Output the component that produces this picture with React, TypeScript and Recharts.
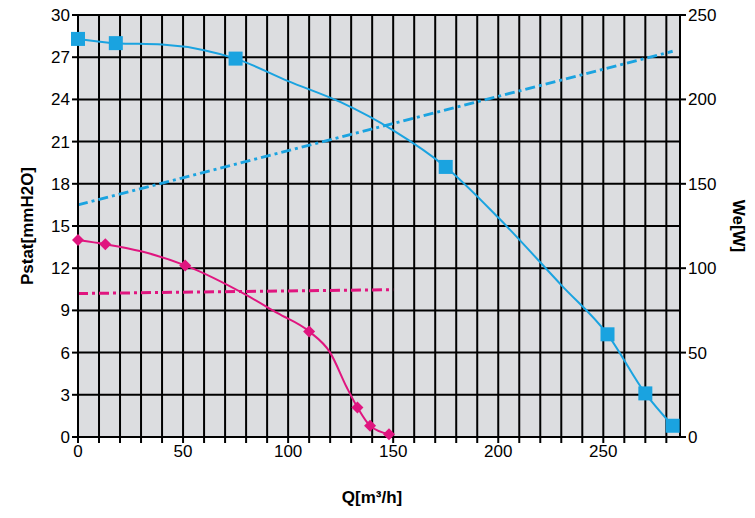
import { ComposedChart, Line, XAxis, YAxis, CartesianGrid, ReferenceLine, Customized } from "recharts";

// Q [m3/h] vs Pstat [mmH2O]; m = measured point (marker)
const bluePressure = [
  { q: 0, p: 28.3, m: 1 }, { q: 18, p: 28.0, m: 1 }, { q: 40, p: 27.9 },
  { q: 60, p: 27.5 }, { q: 75, p: 26.9, m: 1 }, { q: 100, p: 25.3 },
  { q: 125, p: 23.8 }, { q: 150, p: 21.8 }, { q: 175, p: 19.2, m: 1 },
  { q: 200, p: 15.6 }, { q: 230, p: 10.8 }, { q: 252, p: 7.3, m: 1 },
  { q: 270, p: 3.1, m: 1 }, { q: 283, p: 0.8, m: 1 },
];
const magentaPressure = [
  { q: 0, p: 14.0, m: 1 }, { q: 13, p: 13.7, m: 1 }, { q: 30, p: 13.2 },
  { q: 51, p: 12.2, m: 1 }, { q: 80, p: 10.1 }, { q: 95, p: 8.8 },
  { q: 110, p: 7.5, m: 1 }, { q: 120, p: 6.0 }, { q: 128, p: 3.5 },
  { q: 133, p: 2.1, m: 1 }, { q: 139, p: 0.8, m: 1 }, { q: 148, p: 0.2, m: 1 },
];
// Q vs We [W]
const bluePower = [{ q: 0, w: 137.5 }, { q: 283, w: 228.5 }];
const magentaPower = [{ q: 0, w: 85 }, { q: 150, w: 87.3 }];

const xTicks = Array.from({ length: 29 }, (_, i) => i * 10);
const leftTicks = [0, 3, 6, 9, 12, 15, 18, 21, 24, 27, 30];
const rightTicks = [0, 50, 100, 150, 200, 250];

const BLUE = "#1aa3e0";
const MAGENTA = "#e0157f";
const font = "'Liberation Sans', Arial, sans-serif";

const SquareDot = (props: any) => {
  const { cx, cy, payload } = props;
  if (!payload?.m) return null;
  return <rect key={`${cx}-${cy}`} x={cx - 7} y={cy - 7} width={14} height={14} fill={BLUE} />;
};
const DiamondDot = (props: any) => {
  const { cx, cy, payload } = props;
  if (!payload?.m) return null;
  return (
    <path key={`${cx}-${cy}`} d={`M${cx},${cy - 6}L${cx + 6},${cy}L${cx},${cy + 6}L${cx - 6},${cy}Z`} fill={MAGENTA} />
  );
};

const tick = { fill: "#000", fontSize: 17, fontFamily: font };

export default function App() {
  return (
    <div style={{ margin: -8, fontFamily: font }}>
      <ComposedChart width={755} height={518} margin={{ top: 15, right: 15, bottom: 51, left: 18 }}>
        <CartesianGrid yAxisId="l" horizontal={false} vertical={false} fill="#dcdde0" />
        <XAxis
          type="number"
          dataKey="q"
          domain={[0, 286.5]}
          ticks={xTicks}
          interval={0}
          tickFormatter={(v) => (v % 50 === 0 ? String(v) : "")}
          tick={tick}
          stroke="#000"
          strokeWidth={2}
          tickSize={6}
          allowDuplicatedCategory={false}
          height={30}
        />
        <YAxis yAxisId="l" domain={[0, 30]} ticks={leftTicks} tick={tick} stroke="#000" strokeWidth={2} width={60} />
        <YAxis yAxisId="r" orientation="right" domain={[0, 250]} ticks={rightTicks} tick={tick} stroke="#000" strokeWidth={2} width={60} />
        {xTicks.slice(1).map((x) => (
          <ReferenceLine key={`x${x}`} yAxisId="l" x={x} stroke="#000" strokeWidth={2} />
        ))}
        <ReferenceLine yAxisId="l" x={286.5} stroke="#000" strokeWidth={2} />
        {leftTicks.slice(1).map((y) => (
          <ReferenceLine key={`y${y}`} yAxisId="l" y={y} stroke="#000" strokeWidth={2} />
        ))}
        <Line yAxisId="r" data={bluePower} dataKey="w" stroke={BLUE} strokeWidth={3} strokeDasharray="10 4 3 4" dot={false} isAnimationActive={false} />
        <Line yAxisId="r" data={magentaPower} dataKey="w" stroke={MAGENTA} strokeWidth={3} strokeDasharray="10 4 3 4" dot={false} isAnimationActive={false} />
        <Line yAxisId="l" data={bluePressure} dataKey="p" type="monotone" stroke={BLUE} strokeWidth={2} dot={<SquareDot />} isAnimationActive={false} />
        <Line yAxisId="l" data={magentaPressure} dataKey="p" type="monotone" stroke={MAGENTA} strokeWidth={2} dot={<DiamondDot />} isAnimationActive={false} />
        <Customized
          component={() => (
            <g fontFamily={font} fontWeight="bold" fontSize={17} fill="#000">
              <text x={33} y={226} textAnchor="middle" transform="rotate(-90 33 226)">Pstat[mmH2O]</text>
              <text x={733} y={226} textAnchor="middle" transform="rotate(90 733 226)">We[W]</text>
              <text x={372} y={503} textAnchor="middle">Q[m³/h]</text>
            </g>
          )}
        />
      </ComposedChart>
    </div>
  );
}
